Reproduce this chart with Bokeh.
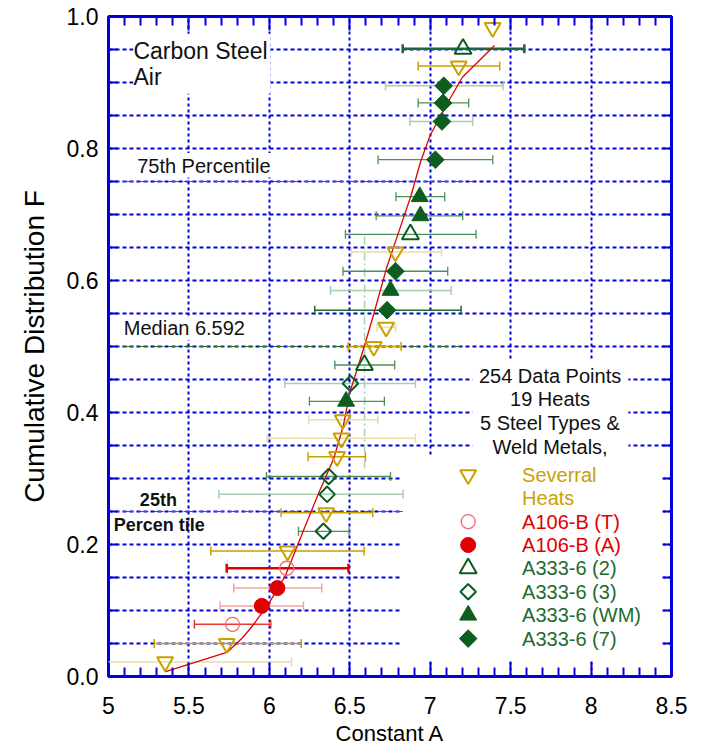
import math
import numpy as np
from bokeh.plotting import figure
from bokeh.models import Range1d, FixedTicker, LinearAxis, Grid, Label, BoxAnnotation
from bokeh.embed import file_html
from bokeh.resources import INLINE

# ---------------- data ----------------
# fitted cumulative distribution (red curve)
fit_A = [5.35, 5.74, 5.83, 5.89, 6.00, 6.10, 6.21, 6.31, 6.40, 6.46, 6.50, 6.59,
         6.65, 6.73, 6.82, 6.88, 6.94, 7.00, 7.11, 7.20, 7.40]
fit_F = [0.007, 0.037, 0.058, 0.075, 0.112, 0.153, 0.220, 0.280, 0.330, 0.380, 0.430,
         0.500, 0.550, 0.620, 0.685, 0.728, 0.780, 0.820, 0.870, 0.908, 0.956]

# Several heats
sev_A = [5.352, 5.735, 6.113, 6.353, 6.421, 6.448, 6.456, 6.649, 6.726, 6.784, 7.177, 7.388]
sev_F = [0.022, 0.050, 0.190, 0.248, 0.333, 0.361, 0.389, 0.500, 0.529, 0.643, 0.925, 0.983]
sev_lo = [4.95, 5.284, 5.636, 6.073, 6.241, 5.986, 6.245, 6.490, 6.670, 6.510, 6.925, None]
sev_hi = [6.138, 6.198, 6.589, 6.643, 6.597, 6.908, 6.674, 6.819, 6.784, 7.070, 7.432, None]

# A106-B (T)
a106t_A = [5.771, 6.108]
a106t_F = [0.079, 0.164]
a106t_lo = [5.534, 5.735]
a106t_hi = [6.009, 6.492]

# A106-B (A)
a106a_A = [5.953, 6.050]
a106a_F = [0.107, 0.134]
a106a_lo = [5.694, 5.779]
a106a_hi = [6.212, 6.326]

# A333-6 (2)
a3332_A = [6.591, 6.877, 7.204]
a3332_F = [0.472, 0.670, 0.951]
a3332_lo = [6.407, 6.473, 6.829]
a3332_hi = [6.779, 7.285, 7.585]

# A333-6 (3)
a3333_A = [6.336, 6.359, 6.369, 6.504]
a3333_F = [0.220, 0.276, 0.303, 0.444]
a3333_lo = [6.181, 5.686, 5.982, 6.096]
a3333_hi = [6.496, 6.832, 6.753, 6.908]

# A333-6 (WM)
a333wm_A = [6.477, 6.753, 6.939, 6.935]
a333wm_F = [0.417, 0.585, 0.698, 0.727]
a333wm_lo = [6.249, 6.380, 6.664, 6.787]
a333wm_hi = [6.715, 7.130, 7.202, 7.090]

# A333-6 (7)
a3337_A = [6.732, 6.784, 7.032, 7.073, 7.080, 7.084]
a3337_F = [0.555, 0.614, 0.783, 0.841, 0.869, 0.895]
a3337_lo = [6.282, 6.458, 6.676, 6.873, 6.925, 6.722]
a3337_hi = [7.192, 7.109, 7.389, 7.264, 7.239, 7.453]

# percentile / median reference values
pct_F = [0.25, 0.50, 0.75]
pct_end = [6.83, 7.19, 7.27]
median_A = 6.592

x_ticks = [5.0, 5.5, 6.0, 6.5, 7.0, 7.5, 8.0, 8.5]
x_tick_labels = ["5", "5.5", "6", "6.5", "7", "7.5", "8", "8.5"]
y_ticks = [0.0, 0.2, 0.4, 0.6, 0.8, 1.0]
y_tick_labels = ["0.0", "0.2", "0.4", "0.6", "0.8", "1.0"]

legend_labels = ["Severral", "Heats", "A106-B (T)", "A106-B (A)",
                 "A333-6 (2)", "A333-6 (3)", "A333-6 (WM)", "A333-6 (7)"]

# ---------------- styles ----------------
BLUE = "#0000DD"
GOLD = "#C9A100"
RED = "#E00000"
GREEN = "#0D5E1E"
GREEN_TXT = "#1E6B2E"
FONT = "Liberation Sans"

bar_tones = {
    "gold": {"deep": ("#C9A100", 1.5), "pale": ("#E9DDA8", 1.5)},
    "red": {"heavy": ("#E00000", 2.5), "mid": ("#E83A3A", 1.5), "pale": ("#F5A3A3", 1.5)},
    "green": {"heavy": ("#1D6A2C", 2.5), "deep": ("#1D6A2C", 1.5),
              "mid": ("#4C9058", 1.3), "pale": ("#A9CFB1", 1.5)},
}
sev_tone = ["pale", "deep", "deep", "deep", "deep", "pale", "pale", "deep", "pale", "pale", "deep", "deep"]
a106t_tone = ["mid", "heavy"]
a106a_tone = ["pale", "pale"]
a3332_tone = ["mid", "mid", "heavy"]
a3333_tone = ["mid", "pale", "mid", "pale"]
a333wm_tone = ["mid", "pale", "mid", "mid"]
a3337_tone = ["deep", "mid", "mid", "pale", "mid", "pale"]

marker_styles = {
    "sev": dict(marker="inverted_triangle", size=16, line_color=GOLD, line_width=2, fill_color=None),
    "a106t": dict(marker="circle", size=14, line_color="#F06868", line_width=1.3, fill_color=None),
    "a106a": dict(marker="circle", size=15, line_color=RED, line_width=1, fill_color=RED),
    "a3332": dict(marker="triangle", size=17, line_color=GREEN, line_width=2, fill_color=None),
    "a3333": dict(marker="square", angle=math.pi / 4, size=11, line_color=GREEN, line_width=2, fill_color=None),
    "a333wm": dict(marker="triangle", size=17, line_color=GREEN, line_width=1, fill_color=GREEN),
    "a3337": dict(marker="square", angle=math.pi / 4, size=12.5, line_color=GREEN, line_width=1, fill_color=GREEN),
}

series = [
    ("sev", "gold", sev_A, sev_F, sev_lo, sev_hi, sev_tone),
    ("a106t", "red", a106t_A, a106t_F, a106t_lo, a106t_hi, a106t_tone),
    ("a106a", "red", a106a_A, a106a_F, a106a_lo, a106a_hi, a106a_tone),
    ("a3332", "green", a3332_A, a3332_F, a3332_lo, a3332_hi, a3332_tone),
    ("a3333", "green", a3333_A, a3333_F, a3333_lo, a3333_hi, a3333_tone),
    ("a333wm", "green", a333wm_A, a333wm_F, a333wm_lo, a333wm_hi, a333wm_tone),
    ("a3337", "green", a3337_A, a3337_F, a3337_lo, a3337_hi, a3337_tone),
]

# ---------------- figure ----------------
p = figure(width=705, height=748, x_range=Range1d(5, 8.5), y_range=Range1d(0, 1),
           x_axis_type=None, y_axis_type=None,
           output_backend="svg", toolbar_location=None,
           min_border_left=108, min_border_right=34, min_border_top=16, min_border_bottom=72)
p.background_fill_color = "white"
p.border_fill_color = "white"
p.outline_line_color = BLUE
p.outline_line_width = 3

x_fine = [round(5 + 0.1 * i, 2) for i in range(36)]
x_minor = [v for i, v in enumerate(x_fine) if i % 5 != 0]
y_fine = [round(0.05 * i, 2) for i in range(21)]
y_minor = [v for i, v in enumerate(y_fine) if i % 4 != 0]


def style_axis(ax, major_len, minor_len):
    ax.axis_line_color = None
    ax.major_tick_in = major_len
    ax.major_tick_out = 0
    ax.minor_tick_in = minor_len
    ax.minor_tick_out = 0
    ax.major_tick_line_color = BLUE
    ax.minor_tick_line_color = BLUE
    ax.major_tick_line_width = 2
    ax.minor_tick_line_width = 2


# labelled axes (bottom / left)
xb = LinearAxis(ticker=FixedTicker(ticks=x_ticks, minor_ticks=x_minor))
style_axis(xb, 14, 9)
xb.major_label_overrides = dict(zip(x_ticks, x_tick_labels))
xb.major_label_text_font = FONT
xb.major_label_text_font_size = "23px"
xb.major_label_text_color = "black"
xb.major_label_standoff = 20
xb.axis_label = "Constant A"
xb.axis_label_text_font = FONT
xb.axis_label_text_font_size = "22px"
xb.axis_label_text_font_style = "normal"
xb.axis_label_text_color = "black"
xb.axis_label_standoff = 4
p.add_layout(xb, "below")

yl = LinearAxis(ticker=FixedTicker(ticks=y_ticks, minor_ticks=y_minor))
style_axis(yl, 9, 9)
yl.major_label_overrides = dict(zip(y_ticks, y_tick_labels))
yl.major_label_text_font = FONT
yl.major_label_text_font_size = "23px"
yl.major_label_text_color = "black"
yl.major_label_standoff = 10
yl.axis_label = "Cumulative Distribution F"
yl.axis_label_text_font = FONT
yl.axis_label_text_font_size = "28px"
yl.axis_label_text_font_style = "normal"
yl.axis_label_text_color = "black"
yl.axis_label_standoff = 14
p.add_layout(yl, "left")

# unlabelled tick rows on the top and right edges (minor ticks only)
xt_major = LinearAxis(ticker=FixedTicker(ticks=[], minor_ticks=x_ticks))
style_axis(xt_major, 0, 14)
p.add_layout(xt_major, "above")
xt_minor = LinearAxis(ticker=FixedTicker(ticks=[], minor_ticks=x_minor))
style_axis(xt_minor, 0, 9)
p.add_layout(xt_minor, "above")
yr = LinearAxis(ticker=FixedTicker(ticks=[], minor_ticks=y_fine))
style_axis(yr, 0, 9)
p.add_layout(yr, "right")

# dashed blue grid
xg = Grid(dimension=0, ticker=FixedTicker(ticks=x_ticks[1:-1]))
xg.grid_line_color = BLUE
xg.grid_line_dash = "3 3"
xg.grid_line_width = 2
p.add_layout(xg)
yg = Grid(dimension=1, ticker=FixedTicker(ticks=y_fine[1:-1]))
yg.grid_line_color = BLUE
yg.grid_line_dash = "4 3"
yg.grid_line_width = 2
p.add_layout(yg)

# white panels behind the text blocks
for l, r, b, t in [(5.155, 6.007, 0.883, 0.974), (5.16, 6.035, 0.756, 0.793),
                   (5.08, 5.885, 0.510, 0.547), (7.262, 8.232, 0.330, 0.480),
                   (6.815, 8.45, 0.025, 0.335)]:
    p.add_layout(BoxAnnotation(left=l, right=r, bottom=b, top=t, fill_color="white",
                               fill_alpha=1, line_color=None, level="underlay"))

# percentile and median guides
p.segment(x0=[5.0] * len(pct_F), y0=pct_F, x1=pct_end, y1=pct_F,
          line_color="#2F6F3A", line_dash="10 5", line_width=1.2)
p.segment(x0=[median_A], y0=[0.315], x1=[median_A], y1=[0.67],
          line_color="#A9CFB1", line_dash="8 3 2 3", line_width=1.5)

# error bars with end caps
for key, fam, A, F, lo, hi, tone in series:
    lo_a = np.array(lo, dtype=float)
    hi_a = np.array(hi, dtype=float)
    F_a = np.array(F, dtype=float)
    colors = [bar_tones[fam][t][0] for t in tone]
    widths = [bar_tones[fam][t][1] for t in tone]
    p.segment(x0=lo_a, y0=F_a, x1=hi_a, y1=F_a, line_color=colors, line_width=widths)
    p.scatter(x=np.concatenate([lo_a, hi_a]), y=np.concatenate([F_a, F_a]),
              marker="dash", angle=math.pi / 2, size=9,
              line_color=colors + colors, line_width=widths + widths)

# fitted distribution
p.line(fit_A, fit_F, line_color=RED, line_width=1.3)

# data markers
for key, fam, A, F, lo, hi, tone in series:
    p.scatter(x=A, y=F, **marker_styles[key])


# ---------------- annotations ----------------
def note(x, y, text, size, bold=False, color="#111111", align="left"):
    p.add_layout(Label(x=x, y=y, text=text, text_font=FONT, text_font_size=f"{size}px",
                       text_font_style="bold" if bold else "normal", text_color=color,
                       text_align=align, text_baseline="middle"))


note(5.155, 0.948, "Carbon Steel", 23)
note(5.155, 0.908, "Air", 23)
note(5.178, 0.774, "75th Percentile", 20)
note(5.095, 0.528, "Median 6.592", 20)
note(5.195, 0.267, "25th", 18, bold=True)
note(5.033, 0.229, "Percen tile", 18, bold=True)
for i, txt in enumerate(["254 Data Points", "19 Heats", "5 Steel Types &", "Weld Metals,"]):
    note(7.745, 0.456 - i * 0.0363, txt, 20, align="center")

# legend block
leg_x, leg_tx, leg_y0, leg_dy = 7.236, 7.571, 0.3056, 0.03545
legend_colors = [GOLD, GOLD, RED, RED, GREEN_TXT, GREEN_TXT, GREEN_TXT, GREEN_TXT]
legend_keys = ["sev", None, "a106t", "a106a", "a3332", "a3333", "a333wm", "a3337"]
for i, (lab, col, key) in enumerate(zip(legend_labels, legend_colors, legend_keys)):
    yy = leg_y0 - i * leg_dy
    if key is not None:
        p.scatter(x=[leg_x], y=[yy], **marker_styles[key])
    note(leg_tx, yy, lab, 20, color=col)

open("out.html", "w").write(file_html(p, INLINE))
